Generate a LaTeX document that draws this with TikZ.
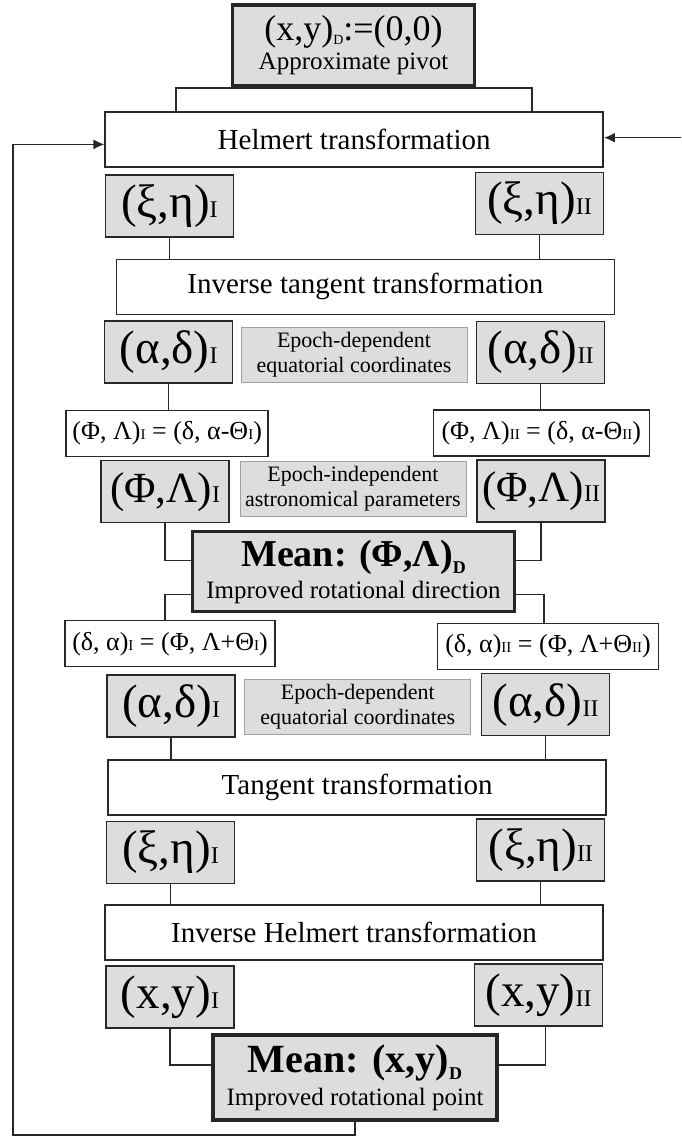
\documentclass[tikz,border=0pt]{standalone}
\usepackage{fontspec}
\setmainfont{Liberation Serif}
\usetikzlibrary{arrows.meta}

\definecolor{boxgrey}{RGB}{221,221,221}
\definecolor{linegrey}{RGB}{40,40,40}
\definecolor{labedge}{RGB}{160,160,160}

\newcommand{\fs}[2]{\fontsize{#1pt}{#2pt}\selectfont}
\newcommand{\idx}[1]{{\fs{24}{24}#1}}
\newcommand{\fidx}[1]{{\fs{15}{15}#1}}

\tikzset{
  valbox/.style={draw=linegrey, line width=1.5pt, fill=boxgrey, minimum width=128pt, minimum height=62pt, inner sep=0pt, font=\fs{47}{47}},
  trbox/.style={draw=linegrey, line width=1.5pt, fill=white, minimum width=498pt, minimum height=55pt, inner sep=0pt, font=\fs{29}{29}},
  frmbox/.style={draw=linegrey, line width=1.5pt, fill=white, minimum height=46pt, inner sep=0pt, font=\fs{26}{26}},
  labbox/.style={draw=labedge, line width=0.8pt, fill=boxgrey, minimum width=226pt, minimum height=55pt, inner sep=0pt, align=center, font=\fs{22}{25}},
  meanbox/.style={draw=black!85, line width=3.5pt, fill=boxgrey, inner sep=0pt, align=center},
  link/.style={draw=linegrey, line width=1.5pt},
  arr/.style={link, -{Latex[length=11pt,width=10pt]}}
}

\begin{document}
\begin{tikzpicture}[x=1pt, y=-1pt]
  \useasboundingbox (0,0) rectangle (681,1136);

  % start value and first transformation
  \node[meanbox, minimum width=242pt, minimum height=81pt] (pivot) at (353.5,45.5)
    {\fs{36}{36}(x,y)\raisebox{-4pt}{\fs{14}{14}D}:=(0,0)\\[4pt] \fs{25}{30}Approximate pivot};
  \node[trbox] (helmert) at (354.2,139.4) {Helmert transformation};

  \node[valbox] (xiI)  at (169.4,206)   {(ξ,η)\idx{I}};
  \node[valbox] (xiII) at (539.6,203.4) {(ξ,η)\idx{II}};

  \node[trbox] (invtan) at (365.4,286.8) {Inverse tangent transformation};

  \node[valbox] (adI)  at (168.7,352)   {(α,δ)\idx{I}};
  \node[labbox] (adlab) at (354,354.5)  {Epoch-dependent\\equatorial coordinates};
  \node[valbox] (adII) at (540.6,352.5) {(α,δ)\idx{II}};

  \node[frmbox, minimum width=202pt] (fI)  at (167.2,433.3) {(Φ, Λ)\fidx{I} = (δ, α-Θ\fidx{I})};
  \node[frmbox, minimum width=216pt] (fII) at (541.3,433)   {(Φ, Λ)\fidx{II} = (δ, α-Θ\fidx{II})};

  \node[valbox, font=\fs{43}{43}] (plI)  at (165.2,491.7) {(Φ,Λ)\idx{I}};
  \node[labbox] (pllab) at (352.9,489)  {Epoch-independent\\astronomical parameters};
  \node[valbox, font=\fs{43}{43}] (plII) at (541.1,491)   {(Φ,Λ)\idx{II}};

  % mean direction
  \node[meanbox, minimum width=322pt, minimum height=80pt] (meanP) at (353.5,571.7)
    {\bfseries\fs{38}{38}Mean: (Φ,Λ)\raisebox{-7pt}{\fs{18}{18}D}\\[6pt] \mdseries\fs{25}{28}Improved rotational direction};

  \node[frmbox, minimum width=210pt] (gI)  at (170,643.7)  {(δ, α)\fidx{I} = (Φ, Λ+Θ\fidx{I})};
  \node[frmbox, minimum width=221pt] (gII) at (548,646.3)  {(δ, α)\fidx{II} = (Φ, Λ+Θ\fidx{II})};

  \node[valbox] (adI2)  at (171.1,705.8) {(α,δ)\idx{I}};
  \node[labbox] (adlab2) at (357.8,706.6) {Epoch-dependent\\equatorial coordinates};
  \node[valbox] (adII2) at (545.6,704.7) {(α,δ)\idx{II}};

  \node[trbox] (tangent) at (357.2,787.5) {Tangent transformation};

  \node[valbox] (xiI2)  at (170.6,852.3) {(ξ,η)\idx{I}};
  \node[valbox] (xiII2) at (540.7,850)   {(ξ,η)\idx{II}};

  \node[trbox] (invhelm) at (354,932.5) {Inverse Helmert transformation};

  \node[valbox] (xyI)  at (170,997)   {(x,y)\idx{I}};
  \node[valbox] (xyII) at (538.5,995) {(x,y)\idx{II}};

  % mean point
  \node[meanbox, minimum width=284pt, minimum height=85pt] (meanXY) at (355,1077.5)
    {\bfseries\fs{40}{40}Mean: (x,y)\raisebox{-7pt}{\fs{18}{18}D}\\[6pt] \mdseries\fs{25}{28}Improved rotational point};

  % connectors
  \coordinate (lb) at (176,86);
  \coordinate (rb) at (532,86);
  \draw[link] (helmert.north -| lb) |- (pivot.south) -| (helmert.north -| rb);

  \draw[link] (xiI.south) -- (xiI.south |- invtan.north);
  \draw[link] (xiII.south) -- (xiII.south |- invtan.north);
  \draw[link] (adI.south) -- (adI.south |- fI.north);
  \draw[link] (adII.south) -- (adII.south |- fII.north);

  \draw[link] (plI.south) |- ([yshift=11pt]meanP.west);
  \draw[link] (plII.south) |- ([yshift=11pt]meanP.east);
  \draw[link] ([yshift=-22.6pt]meanP.west) -| ([xshift=-5pt]gI.north);
  \draw[link] ([yshift=-22.6pt]meanP.east) -| ([xshift=-4pt]gII.north);

  \draw[link] (adI2.south) -- (adI2.south |- tangent.north);
  \draw[link] (adII2.south) -- (adII2.south |- tangent.north);
  \draw[link] (xiI2.south) -- (xiI2.south |- invhelm.north);
  \draw[link] (xiII2.south) -- (xiII2.south |- invhelm.north);

  \draw[link] (xyI.south) |- ([yshift=12.5pt]meanXY.west);
  \draw[link] ([xshift=7pt]xyII.south) |- ([yshift=12.5pt]meanXY.east);

  % feedback loop and outside input
  \coordinate (fb) at (13,1135);
  \draw[arr] (meanXY.south) |- (fb) |- ([yshift=-5pt]helmert.west);
  \coordinate (inR) at (681,137.7);
  \draw[arr] (inR) -- (inR -| helmert.east);
\end{tikzpicture}
\end{document}
